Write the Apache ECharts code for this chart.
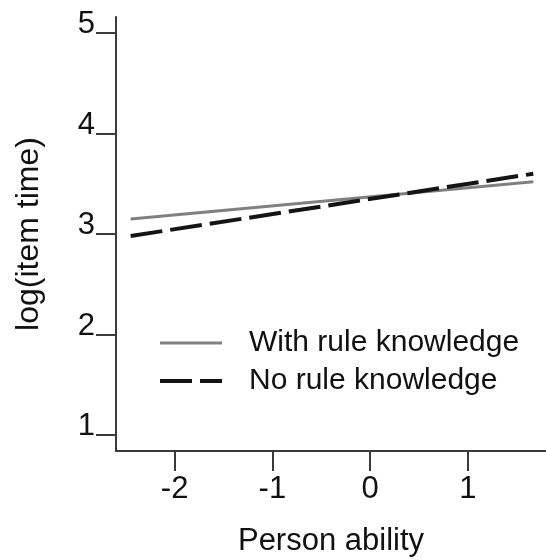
<!DOCTYPE html>
<html>
<head>
<meta charset="utf-8">
<title>log(item time) by person ability</title>
<script src="https://cdn.jsdelivr.net/npm/echarts@6/dist/echarts.min.js"></script>
<style>
  html, body { margin: 0; padding: 0; background: #ffffff; }
  #chart { width: 546px; height: 560px; }
</style>
</head>
<body>
<div id="chart"></div>
<script>
// Fitted lines: endpoints over the observed ability range
const abilityEnds = [-2.45, 1.67];
const withRuleKnowledge = [3.15, 3.52];
const noRuleKnowledge = [2.98, 3.60];

const seriesNames = ['With rule knowledge', 'No rule knowledge'];
const xTicks = [-2, -1, 0, 1];
const yTicks = [1, 2, 3, 4, 5];

const FONT = '"Liberation Sans", Arial, Helvetica, sans-serif';

const solidStyle = { color: '#808080', width: 3, type: 'solid', cap: 'butt' };
const dashedStyle = { color: '#141414', width: 4, type: [32, 8], cap: 'butt' };

function pairs(xs, ys) {
  return xs.map((x, i) => [x, ys[i]]);
}

const chart = echarts.init(document.getElementById('chart'), null, { renderer: 'canvas' });

const axisLineStyle = { color: '#3a3a3a', width: 2 };

chart.setOption({
  animation: false,
  backgroundColor: '#ffffff',
  textStyle: { fontFamily: FONT, color: '#000' },
  grid: {
    left: 116, right: 0, top: 17, bottom: 109,
    containLabel: false,
    outerBoundsMode: 'none'
  },
  xAxis: {
    type: 'value',
    min: -2.6,
    max: 1.8,
    name: 'Person ability',
    nameLocation: 'middle',
    nameGap: 75,
    nameTextStyle: { fontFamily: FONT, fontSize: 31, color: '#111', lineHeight: 31 },
    axisLine: { show: true, onZero: false, lineStyle: axisLineStyle },
    axisTick: { show: true, length: 20, inside: false, customValues: xTicks, lineStyle: axisLineStyle },
    axisLabel: {
      customValues: xTicks,
      fontFamily: FONT, fontSize: 31, color: '#111', lineHeight: 31,
      margin: 23
    },
    splitLine: { show: false }
  },
  yAxis: {
    type: 'value',
    min: 0.84,
    max: 5.16,
    name: 'log(item time)',
    nameLocation: 'middle',
    nameGap: 71,
    nameTextStyle: { fontFamily: FONT, fontSize: 32, color: '#111', lineHeight: 32 },
    axisLine: { show: true, onZero: false, lineStyle: axisLineStyle },
    axisTick: { show: true, length: 20, inside: false, customValues: yTicks, lineStyle: axisLineStyle },
    axisLabel: {
      customValues: yTicks,
      fontFamily: FONT, fontSize: 31, color: '#111',
      verticalAlign: 'bottom', lineHeight: 17,
      margin: 21
    },
    splitLine: { show: false }
  },
  legend: {
    orient: 'vertical',
    left: 158,
    top: 328,
    padding: 0,
    itemWidth: 62,
    itemHeight: 14,
    itemGap: 8,
    data: [
      { name: seriesNames[0], lineStyle: solidStyle },
      { name: seriesNames[1], lineStyle: dashedStyle }
    ],
    itemStyle: { opacity: 0 },
    textStyle: { fontFamily: FONT, fontSize: 30, color: '#111', lineHeight: 30, padding: [0, 0, 0, 22] }
  },
  series: [
    {
      name: seriesNames[0],
      type: 'line',
      data: pairs(abilityEnds, withRuleKnowledge),
      symbol: 'none',
      lineStyle: solidStyle,
      itemStyle: { color: solidStyle.color },
      z: 2
    },
    {
      name: seriesNames[1],
      type: 'line',
      data: pairs(abilityEnds, noRuleKnowledge),
      symbol: 'none',
      lineStyle: dashedStyle,
      itemStyle: { color: dashedStyle.color },
      z: 3
    }
  ]
});
</script>
</body>
</html>
